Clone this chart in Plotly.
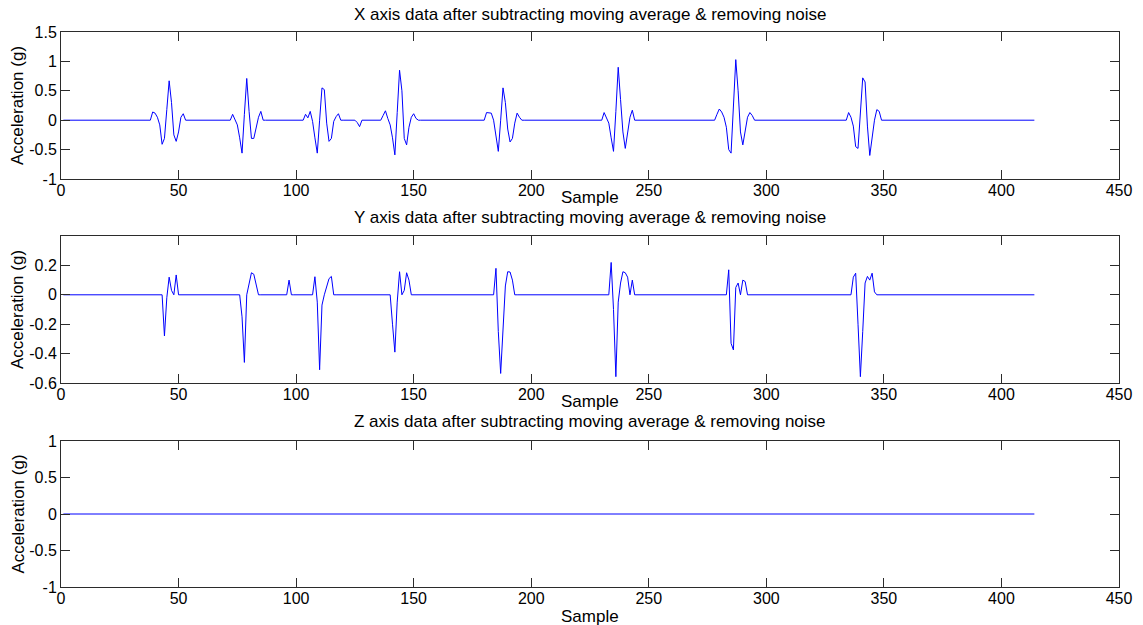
import numpy as np
import plotly.graph_objects as go

# ---------------- data ----------------
n_samples = 414
x_ticks = [0, 50, 100, 150, 200, 250, 300, 350, 400, 450]

# X axis: burst start sample and per-sample values (zero elsewhere)
x_event_starts = [38, 72, 103, 126, 136, 180, 230, 278, 334]
x_event_values = [
    [0.0, 0.14, 0.12, 0.05, -0.08, -0.41, -0.31, 0.18, 0.67, 0.3, -0.25, -0.36, -0.2, 0.05, 0.11, 0.0],
    [0.0, 0.1, 0.0, -0.08, -0.3, -0.56, 0.1, 0.71, 0.15, -0.31, -0.31, -0.12, 0.05, 0.15, 0.0],
    [0.0, 0.1, 0.04, 0.15, -0.02, -0.3, -0.56, 0.0, 0.55, 0.52, -0.05, -0.36, -0.31, -0.02, 0.06, 0.11, 0.0],
    [-0.04, -0.11, 0.0],
    [0.0, 0.08, 0.16, 0.03, -0.08, -0.3, -0.59, 0.13, 0.85, 0.5, -0.31, -0.42, -0.12, 0.05, 0.11, 0.03, 0.0],
    [0.0, 0.13, 0.13, 0.12, 0.0, -0.3, -0.53, 0.0, 0.55, 0.3, -0.15, -0.37, -0.31, -0.05, 0.12, 0.05, 0.0],
    [0.0, 0.13, 0.05, -0.05, -0.3, -0.53, 0.15, 0.9, 0.35, -0.2, -0.48, -0.2, 0.05, 0.17, 0.0],
    [0.0, 0.1, 0.19, 0.14, 0.05, -0.12, -0.5, -0.56, 0.3, 1.03, 0.5, -0.2, -0.42, -0.2, 0.05, 0.13, 0.08, 0.0],
    [0.0, 0.13, 0.05, -0.1, -0.45, -0.48, 0.1, 0.72, 0.65, -0.1, -0.6, -0.3, 0.0, 0.18, 0.15, 0.0],
]

# Y axis bursts
y_event_starts = [43, 76, 96, 107, 140, 184, 233, 283, 336]
y_event_values = [
    [0.0, -0.28, -0.02, 0.12, 0.03, 0.0, 0.135, 0.0],
    [0.0, -0.15, -0.46, 0.0, 0.07, 0.15, 0.14, 0.07, 0.0],
    [0.0, 0.1, 0.0],
    [0.0, 0.123, -0.05, -0.51, -0.07, 0.0, 0.05, 0.11, 0.125, 0.0],
    [0.0, -0.2, -0.39, -0.05, 0.157, 0.0, 0.03, 0.15, 0.1, 0.0],
    [0.0, 0.18, -0.25, -0.535, -0.2, 0.06, 0.157, 0.155, 0.1, 0.0],
    [0.0, 0.22, -0.1, -0.557, -0.05, 0.08, 0.157, 0.15, 0.12, 0.0, 0.1, 0.0],
    [0.0, 0.17, -0.33, -0.375, 0.05, 0.08, 0.0, 0.1, 0.09, 0.0],
    [0.0, 0.12, 0.147, -0.2, -0.557, -0.25, 0.08, 0.125, 0.1, 0.147, 0.02, 0.0],
]

# Z axis: flat
z_values = [0.0] * n_samples

titles = [
    "X axis data after subtracting moving average & removing noise",
    "Y axis data after subtracting moving average & removing noise",
    "Z axis data after subtracting moving average & removing noise",
]
y_ranges = [[-1, 1.5], [-0.6, 0.4], [-1, 1]]
y_tickvals = [[-1, -0.5, 0, 0.5, 1, 1.5], [-0.6, -0.4, -0.2, 0, 0.2], [-1, -0.5, 0, 0.5, 1]]
y_ticktext = [["-1", "-0.5", "0", "0.5", "1", "1.5"],
              ["-0.6", "-0.4", "-0.2", "0", "0.2"],
              ["-1", "-0.5", "0", "0.5", "1"]]


def build(starts, values):
    arr = np.zeros(n_samples)
    for s, vals in zip(starts, values):
        arr[s - 1:s - 1 + len(vals)] = vals
    return arr


samples = np.arange(1, n_samples + 1)
series = [build(x_event_starts, x_event_values),
          build(y_event_starts, y_event_values),
          np.array(z_values)]

# ---------------- figure ----------------
W, H = 1143, 625
ml, mr, mt, mb = 61, 24, 32, 38
ph = H - mt - mb
pw = W - ml - mr


def py2paper(py):
    return (H - mb - py) / ph


def px2paper(px):
    return (px - ml) / pw


domains = [[py2paper(179), 1.0], [py2paper(383), py2paper(236)], [0.0, py2paper(441)]]

fig = go.Figure()
font_family = "Liberation Sans, Arial, sans-serif"
frame = "#2b2b2b"

for i in range(3):
    sfx = "" if i == 0 else str(i + 1)
    fig.add_trace(go.Scatter(
        x=samples, y=series[i], mode="lines",
        line=dict(color="#0000ff", width=1),
        xaxis="x" + sfx, yaxis="y" + sfx, showlegend=False, hoverinfo="skip",
    ))
    fig.update_layout(**{
        "xaxis" + sfx: dict(
            domain=[0, 1], anchor="y" + sfx, range=[0, 450],
            tickvals=x_ticks, ticks="inside", ticklen=9, tickcolor=frame,
            showline=True, linecolor=frame, linewidth=1, mirror="ticks",
            showgrid=False, zeroline=False, ticklabelstandoff=-3,
            tickfont=dict(family=font_family, size=16, color="black"),
        ),
        "yaxis" + sfx: dict(
            domain=domains[i], anchor="x" + sfx, range=y_ranges[i],
            tickvals=y_tickvals[i], ticktext=y_ticktext[i],
            ticks="inside", ticklen=9, tickcolor=frame,
            showline=True, linecolor=frame, linewidth=1, mirror="ticks",
            showgrid=False, zeroline=False,
            tickfont=dict(family=font_family, size=16, color="black"),
        ),
    })

title_py = [14, 217, 422]
sample_py = [197.5, 401, 616]
ylab_py = [105.5, 309.5, 514]
ann = []
for i in range(3):
    ann.append(dict(text=titles[i], x=0.5, y=py2paper(title_py[i]), xref="paper", yref="paper",
                    xanchor="center", yanchor="middle", showarrow=False,
                    font=dict(family=font_family, size=17, color="black")))
    ann.append(dict(text="Sample", x=0.5, y=py2paper(sample_py[i]), xref="paper", yref="paper",
                    xanchor="center", yanchor="middle", showarrow=False,
                    font=dict(family=font_family, size=17, color="black")))
    ann.append(dict(text="Acceleration (g)", x=px2paper(17.5), y=py2paper(ylab_py[i]),
                    xref="paper", yref="paper", xanchor="center", yanchor="middle",
                    textangle=-90, showarrow=False,
                    font=dict(family=font_family, size=17, color="black")))

fig.update_layout(
    width=W, height=H,
    margin=dict(l=ml, r=mr, t=mt, b=mb),
    paper_bgcolor="white", plot_bgcolor="white",
    annotations=ann,
)

fig.write_html("out.html")
